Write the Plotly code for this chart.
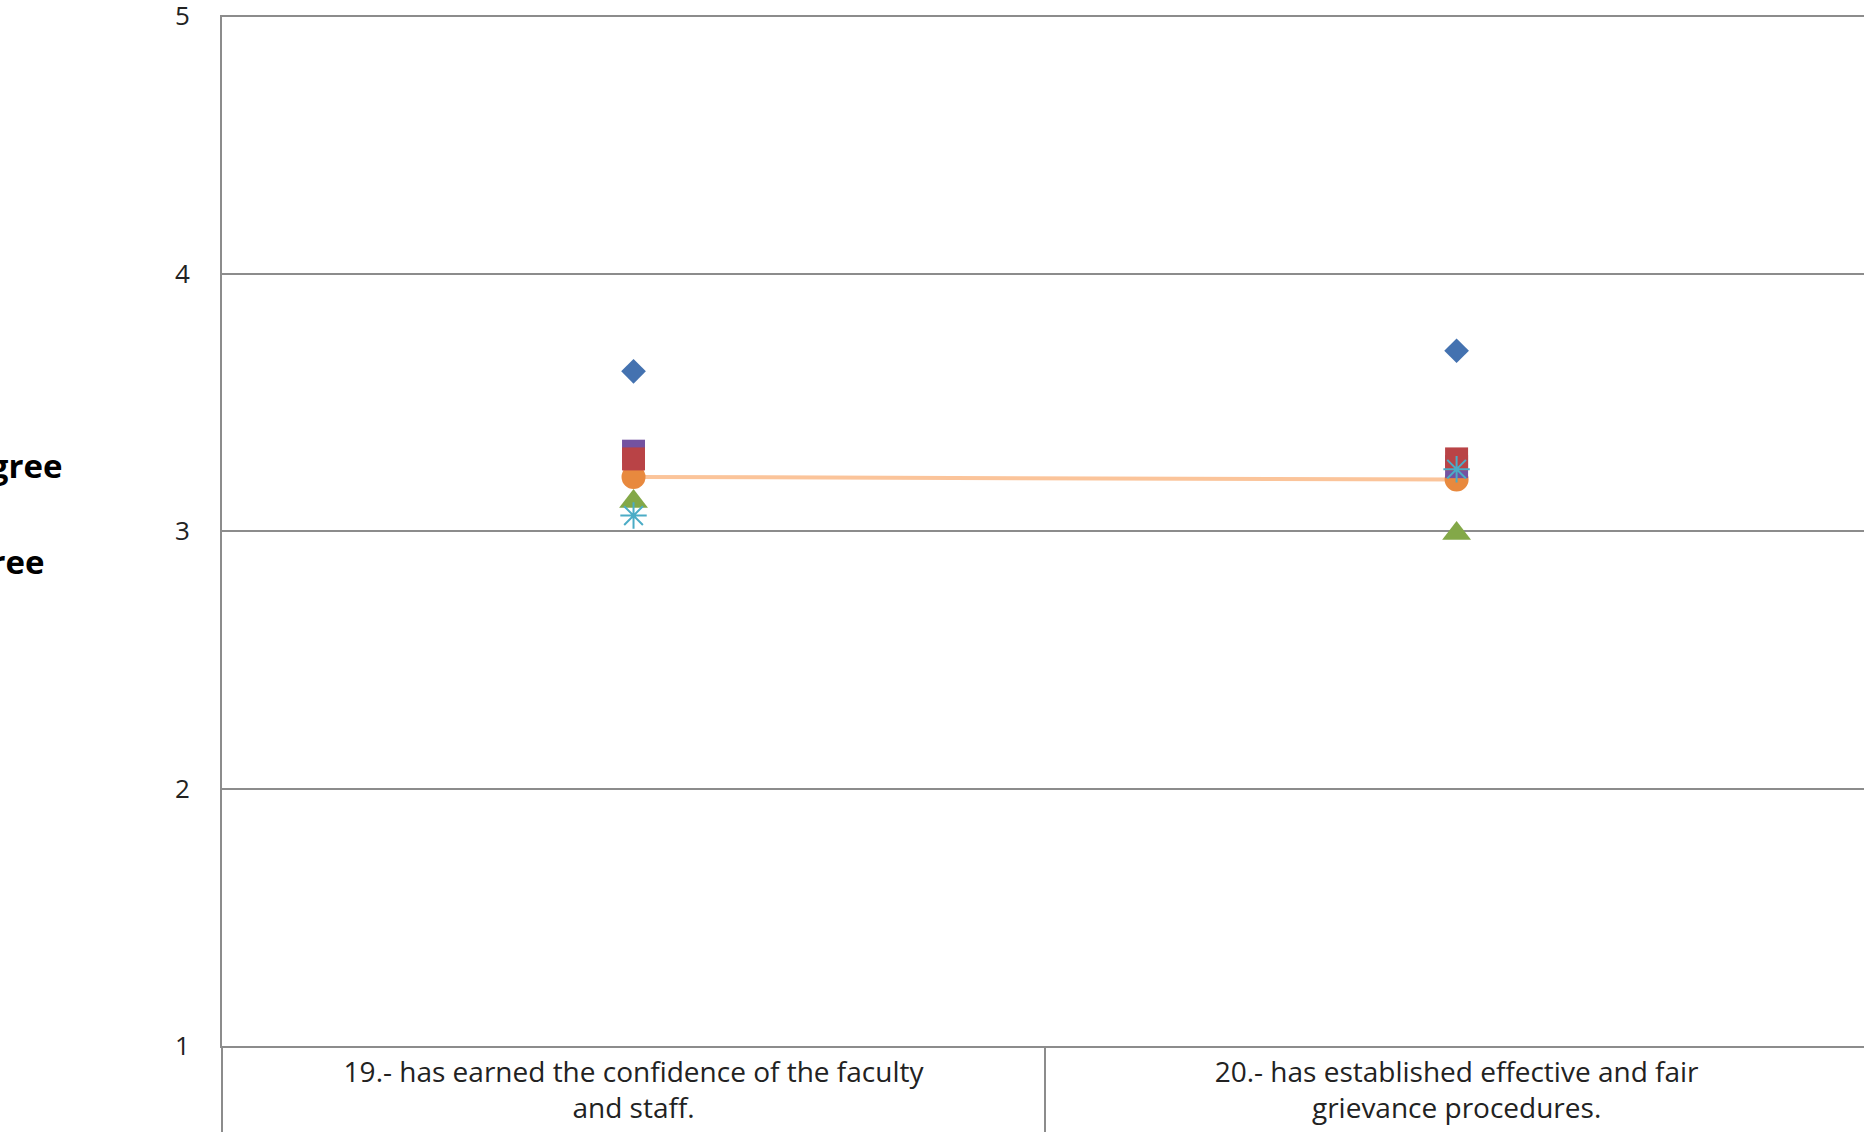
import plotly.graph_objects as go

categories = ["19.- has earned the confidence of the faculty<br>and staff.",
              "20.- has established effective and fair<br>grievance procedures."]
series_blue = [3.62, 3.70]
series_red = [3.28, 3.28]
series_purple = [3.31, 3.25]
series_green = [3.115, 2.99]
series_aqua = [3.06, 3.24]
series_orange = [3.21, 3.20]
y_ticks = [1, 2, 3, 4, 5]
side_labels = ["Agree", "Disagree"]
side_label_y = [3.255, 2.882]

fig = go.Figure()
fig.add_trace(go.Scatter(x=categories, y=series_orange, mode="lines+markers",
                         line=dict(color="#FBC49A", width=4),
                         marker=dict(symbol="circle", size=24, color="#E8893E"), name="orange"))
fig.add_trace(go.Scatter(x=categories, y=series_purple, mode="markers",
                         marker=dict(symbol="square", size=23, color="#7452A0"), name="purple"))
fig.add_trace(go.Scatter(x=categories, y=series_red, mode="markers",
                         marker=dict(symbol="square", size=23, color="#B94346"), name="red"))
fig.add_trace(go.Scatter(x=categories, y=series_green, mode="markers",
                         marker=dict(symbol="triangle-up", size=25, color="#83A848"), name="green"))
fig.add_trace(go.Scatter(x=categories, y=series_aqua, mode="markers",
                         marker=dict(symbol="asterisk-open", size=22, color="#4BACC6",
                                     line=dict(color="#4BACC6", width=2)), name="aqua"))
fig.add_trace(go.Scatter(x=categories, y=series_blue, mode="markers",
                         marker=dict(symbol="diamond", size=19, color="#4472B0"), name="blue"))

PLOT_W = 1864 - 222
for txt, yv, xr in zip(side_labels, side_label_y, [64, 46]):
    fig.add_annotation(text="<b>%s</b>" % txt, x=(xr - 222) / PLOT_W, xref="paper",
                       y=yv, yref="y", xanchor="right", yanchor="middle", showarrow=False,
                       font=dict(family="Open Sans, sans-serif", size=33, color="#000000"))

fig.update_layout(
    width=1864, height=1132,
    margin=dict(l=222, r=0, t=15, b=86, autoexpand=False),
    plot_bgcolor="white", paper_bgcolor="white",
    showlegend=False,
    font=dict(family="Open Sans, sans-serif", color="#222222"),
)
fig.update_xaxes(
    type="category", categoryorder="array", categoryarray=categories,
    range=[-0.5, 1.495], automargin=False,
    showgrid=False, zeroline=False,
    showline=True, linecolor="#8C8C8C", linewidth=2,
    ticks="outside", tickson="boundaries", ticklen=90, tickcolor="#8C8C8C", tickwidth=1.5,
    ticklabelstandoff=0,
    tickfont=dict(size=28, color="#222222"),
)
fig.update_yaxes(
    range=[1, 5.004], tickvals=y_ticks, ticktext=[str(v) for v in y_ticks],
    automargin=False, ticklabeloverflow="allow",
    showgrid=True, gridcolor="#8C8C8C", gridwidth=1.5, zeroline=False,
    showline=True, linecolor="#8C8C8C", linewidth=2,
    ticks="", ticklabelstandoff=25,
    tickfont=dict(size=26, color="#222222"),
)

fig.write_html("out.html", config={"displayModeBar": False},
               post_script="document.body.style.margin='0px';document.body.style.overflow='hidden';")
